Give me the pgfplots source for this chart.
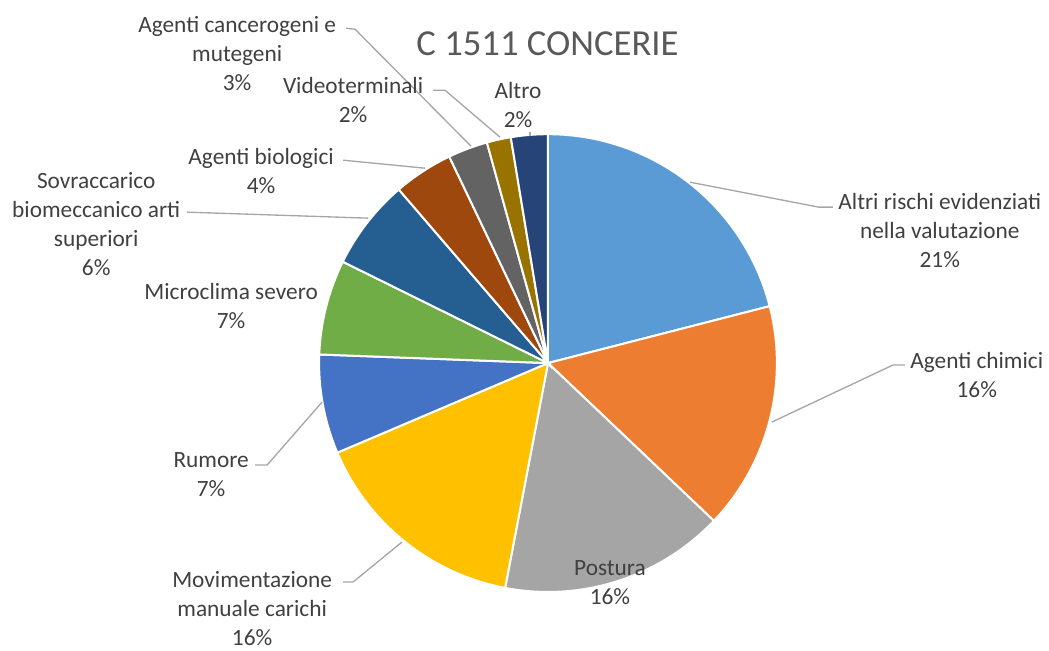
\documentclass[border=0pt]{standalone}
\usepackage{pgfplots}
\pgfplotsset{compat=1.18}
\usepackage{fontspec}
\setmainfont{Carlito}
\definecolor{c1}{HTML}{5B9BD5}
\definecolor{c2}{HTML}{ED7D31}
\definecolor{c3}{HTML}{A5A5A5}
\definecolor{c4}{HTML}{FFC000}
\definecolor{c5}{HTML}{4472C4}
\definecolor{c6}{HTML}{70AD47}
\definecolor{c7}{HTML}{255E91}
\definecolor{c8}{HTML}{9E480E}
\definecolor{c9}{HTML}{636363}
\definecolor{c10}{HTML}{997300}
\definecolor{c11}{HTML}{264478}
\definecolor{labelgray}{HTML}{404040}
\definecolor{titlegray}{HTML}{595959}
\definecolor{leadgray}{HTML}{A6A6A6}
\tikzset{lbl/.style={font=\fontsize{17.5}{21.75}\selectfont, text=labelgray, align=center, inner sep=0pt}}
% values (percent): start and end of each slice, cumulative
% Altri rischi 21.0, Agenti chimici 16.1, Postura 15.9, Movimentazione 15.6,
% Rumore 7.0, Microclima 6.7, Sovraccarico 6.4, Biologici 4.2,
% Cancerogeni 2.8, Videoterminali 1.7, Altro 2.6
\newcommand{\cx}{548}
\newcommand{\cy}{287}
\newcommand{\rr}{229}
\newcommand{\slice}[3]{%
  \addplot[fill=#3, draw=white, line width=1.5pt, domain={#1*3.6}:{#2*3.6}, samples=80, variable=\t, forget plot]
    ({\cx+\rr*sin(\t)},{\cy+\rr*cos(\t)}) -- (axis cs:\cx,\cy) -- cycle;}
\begin{document}
\begin{tikzpicture}
\begin{axis}[
  scale only axis, width=786.75pt, height=487.5pt,
  xmin=0, xmax=1049, ymin=0, ymax=650,
  hide axis, clip=false,
]
\draw[white] (axis cs:0,0) rectangle (axis cs:1049,650);
\slice{0}{21.0}{c1}
\slice{21.0}{37.1}{c2}
\slice{37.1}{53.0}{c3}
\slice{53.0}{68.6}{c4}
\slice{68.6}{75.6}{c5}
\slice{75.6}{82.3}{c6}
\slice{82.3}{88.7}{c7}
\slice{88.7}{92.9}{c8}
\slice{92.9}{95.7}{c9}
\slice{95.7}{97.4}{c10}
\slice{97.4}{100}{c11}
% leader lines
\begin{scope}[leadgray, line width=1pt]
\draw (axis cs:690,468) -- (axis cs:819,443) -- (axis cs:833,443);
\draw (axis cs:772,228) -- (axis cs:893,285) -- (axis cs:905,285);
\draw (axis cs:322,248) -- (axis cs:267,185) -- (axis cs:255,185);
\draw (axis cs:402,108) -- (axis cs:353,68) -- (axis cs:343,68);
\draw (axis cs:425,482) -- (axis cs:343,490);
\draw (axis cs:368,432) -- (axis cs:187,438);
\draw (axis cs:471,504) -- (axis cs:355,621) -- (axis cs:346,622);
\draw (axis cs:500,513) -- (axis cs:445,560) -- (axis cs:433,560);
\draw (axis cs:530,518) -- (axis cs:530,514);
\end{scope}
% labels
\node[lbl, font=\fontsize{27.5}{30}\selectfont, text=titlegray] at (axis cs:547.5,607) {C 1511 CONCERIE};
\node[lbl] at (axis cs:940,420) {Altri rischi evidenziati\\nella valutazione\\21\%};
\node[lbl] at (axis cs:977,275.5) {Agenti chimici\\16\%};
\node[lbl] at (axis cs:610,67.5) {Postura\\16\%};
\node[lbl] at (axis cs:252,41) {Movimentazione\\manuale carichi\\16\%};
\node[lbl] at (axis cs:211,175) {Rumore\\7\%};
\node[lbl] at (axis cs:231,344.5) {Microclima severo\\7\%};
\node[lbl] at (axis cs:96,426) {Sovraccarico\\biomeccanico arti\\superiori\\6\%};
\node[lbl] at (axis cs:261,479.5) {Agenti biologici\\4\%};
\node[lbl] at (axis cs:237,597) {Agenti cancerogeni e\\mutegeni\\3\%};
\node[lbl] at (axis cs:353,550.5) {Videoterminali\\2\%};
\node[lbl] at (axis cs:518,545.5) {Altro\\2\%};
\end{axis}
\end{tikzpicture}
\end{document}
